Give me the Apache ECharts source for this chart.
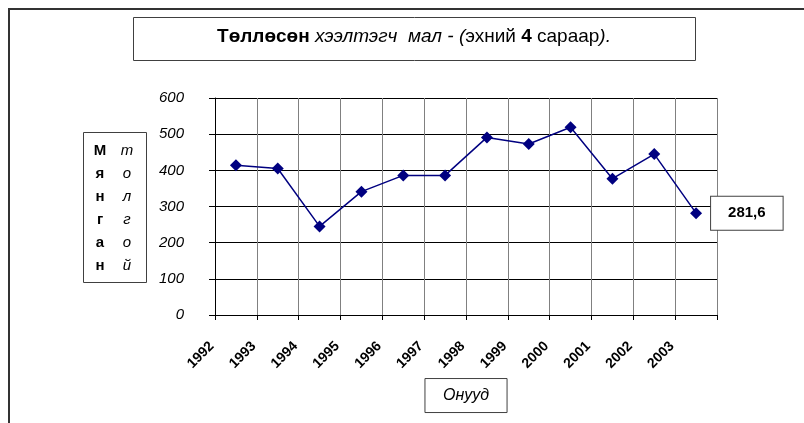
<!DOCTYPE html>
<html>
<head>
<meta charset="utf-8">
<script src="https://cdn.jsdelivr.net/npm/echarts@6/dist/echarts.min.js"></script>
<style>
  html, body { margin: 0; padding: 0; background: #fff; }
  #chart { width: 804px; height: 423px; }
</style>
</head>
<body>
<div id="chart"></div>
<script>
// Data
const years = ['1992', '1993', '1994', '1995', '1996', '1997', '1998', '1999', '2000', '2001', '2002', '2003']
const births = [414, 405, 245, 341, 386, 386, 491, 473, 519, 377, 445, 281.6]
const yTicks = { min: 0, max: 600, step: 100 }

const FONT = "'Liberation Sans', Arial, sans-serif"
const BOX = '#404040'

const chart = echarts.init(document.getElementById('chart'))

const lastIdx = births.length - 1
const seriesData = births.map((v, i) => i === lastIdx ? {
  value: v,
  label: {
    show: true,
    position: 'right',
    distance: 9,
    formatter: (p) => String(p.value).replace('.', ','),
    fontFamily: FONT,
    fontSize: 15,
    fontWeight: 'bold',
    color: '#000',
    backgroundColor: '#fff',
    borderColor: BOX,
    borderWidth: 1,
    padding: [9, 17]
  }
} : v)

const option = {
  animation: false,
  backgroundColor: '#fff',
  title: {
    left: 414,
    top: 27,
    textAlign: 'center',
    padding: 0,
    text: '{b|Төллөсөн} {i|хээлтэгч  мал - (}{n|эхний} {b|4} {n|сараар}{i|).}',
    textStyle: {
      fontFamily: FONT,
      fontSize: 19,
      fontWeight: 'normal',
      color: '#000',
      rich: {
        b: { fontFamily: FONT, fontSize: 19, fontWeight: 'bold', color: '#000' },
        i: { fontFamily: FONT, fontSize: 19, fontWeight: 'normal', fontStyle: 'italic', color: '#000' },
        n: { fontFamily: FONT, fontSize: 19, fontWeight: 'normal', color: '#000' }
      }
    }
  },
  grid: {
    left: 215,
    right: 87,
    top: 98,
    bottom: 108,
    containLabel: false,
    outerBoundsMode: 'none'
  },
  xAxis: {
    type: 'category',
    data: years,
    boundaryGap: true,
    name: 'Онууд',
    nameLocation: 'middle',
    nameGap: 48,
    nameTextStyle: {
      fontFamily: FONT,
      fontSize: 16,
      fontStyle: 'italic',
      color: '#000',
      borderColor: BOX,
      borderWidth: 1,
      padding: [9, 18]
    },
    axisLine: { lineStyle: { color: '#000', width: 1 } },
    axisTick: { show: true, interval: 0, length: 5, lineStyle: { color: '#000' } },
    axisLabel: {
      interval: 0,
      rotate: 45,
      margin: 5,
      padding: [0, 34, 0, 0],
      fontFamily: FONT,
      fontSize: 14,
      fontWeight: 'bold',
      color: '#000'
    },
    splitLine: { show: true, interval: 0, lineStyle: { color: '#808080', width: 1 } }
  },
  yAxis: {
    type: 'value',
    min: yTicks.min,
    max: yTicks.max,
    interval: yTicks.step,
    axisLine: { show: true, lineStyle: { color: '#000', width: 1 } },
    axisTick: { show: true, length: 6, lineStyle: { color: '#000' } },
    axisLabel: {
      margin: 31,
      fontFamily: FONT,
      fontSize: 15,
      fontStyle: 'italic',
      color: '#000'
    },
    splitLine: { show: true, lineStyle: { color: '#000', width: 1 } }
  },
  series: [{
    type: 'line',
    data: seriesData,
    symbol: 'diamond',
    symbolSize: 12,
    lineStyle: { color: '#000080', width: 1.5 },
    itemStyle: { color: '#000080' },
    z: 3
  }],
  graphic: [
    // outer frame (top and left edges visible)
    { type: 'line', shape: { x1: 8, y1: 9, x2: 804, y2: 9 }, style: { stroke: '#333', lineWidth: 2 } },
    { type: 'line', shape: { x1: 9, y1: 8, x2: 9, y2: 423 }, style: { stroke: '#333', lineWidth: 2 } },
    // title box
    { type: 'rect', shape: { x: 133.5, y: 17.5, width: 562, height: 43 }, style: { fill: null, stroke: BOX, lineWidth: 1 }, z: 1 },
    // y axis name box
    {
      type: 'group',
      children: [
        { type: 'rect', shape: { x: 83.5, y: 132.5, width: 63, height: 150 }, style: { fill: '#fff', stroke: BOX, lineWidth: 1 } },
        {
          type: 'text', x: 100, y: 139,
          style: {
            text: 'М\nя\nн\nг\nа\nн',
            font: 'bold 15px ' + FONT,
            lineHeight: 23,
            align: 'center',
            verticalAlign: 'top',
            fill: '#000'
          }
        },
        {
          type: 'text', x: 127, y: 139,
          style: {
            text: 'т\nо\nл\nг\nо\nй',
            font: 'italic 15px ' + FONT,
            lineHeight: 23,
            align: 'center',
            verticalAlign: 'top',
            fill: '#000'
          }
        }
      ]
    }
  ]
}

chart.setOption(option)
</script>
</body>
</html>
